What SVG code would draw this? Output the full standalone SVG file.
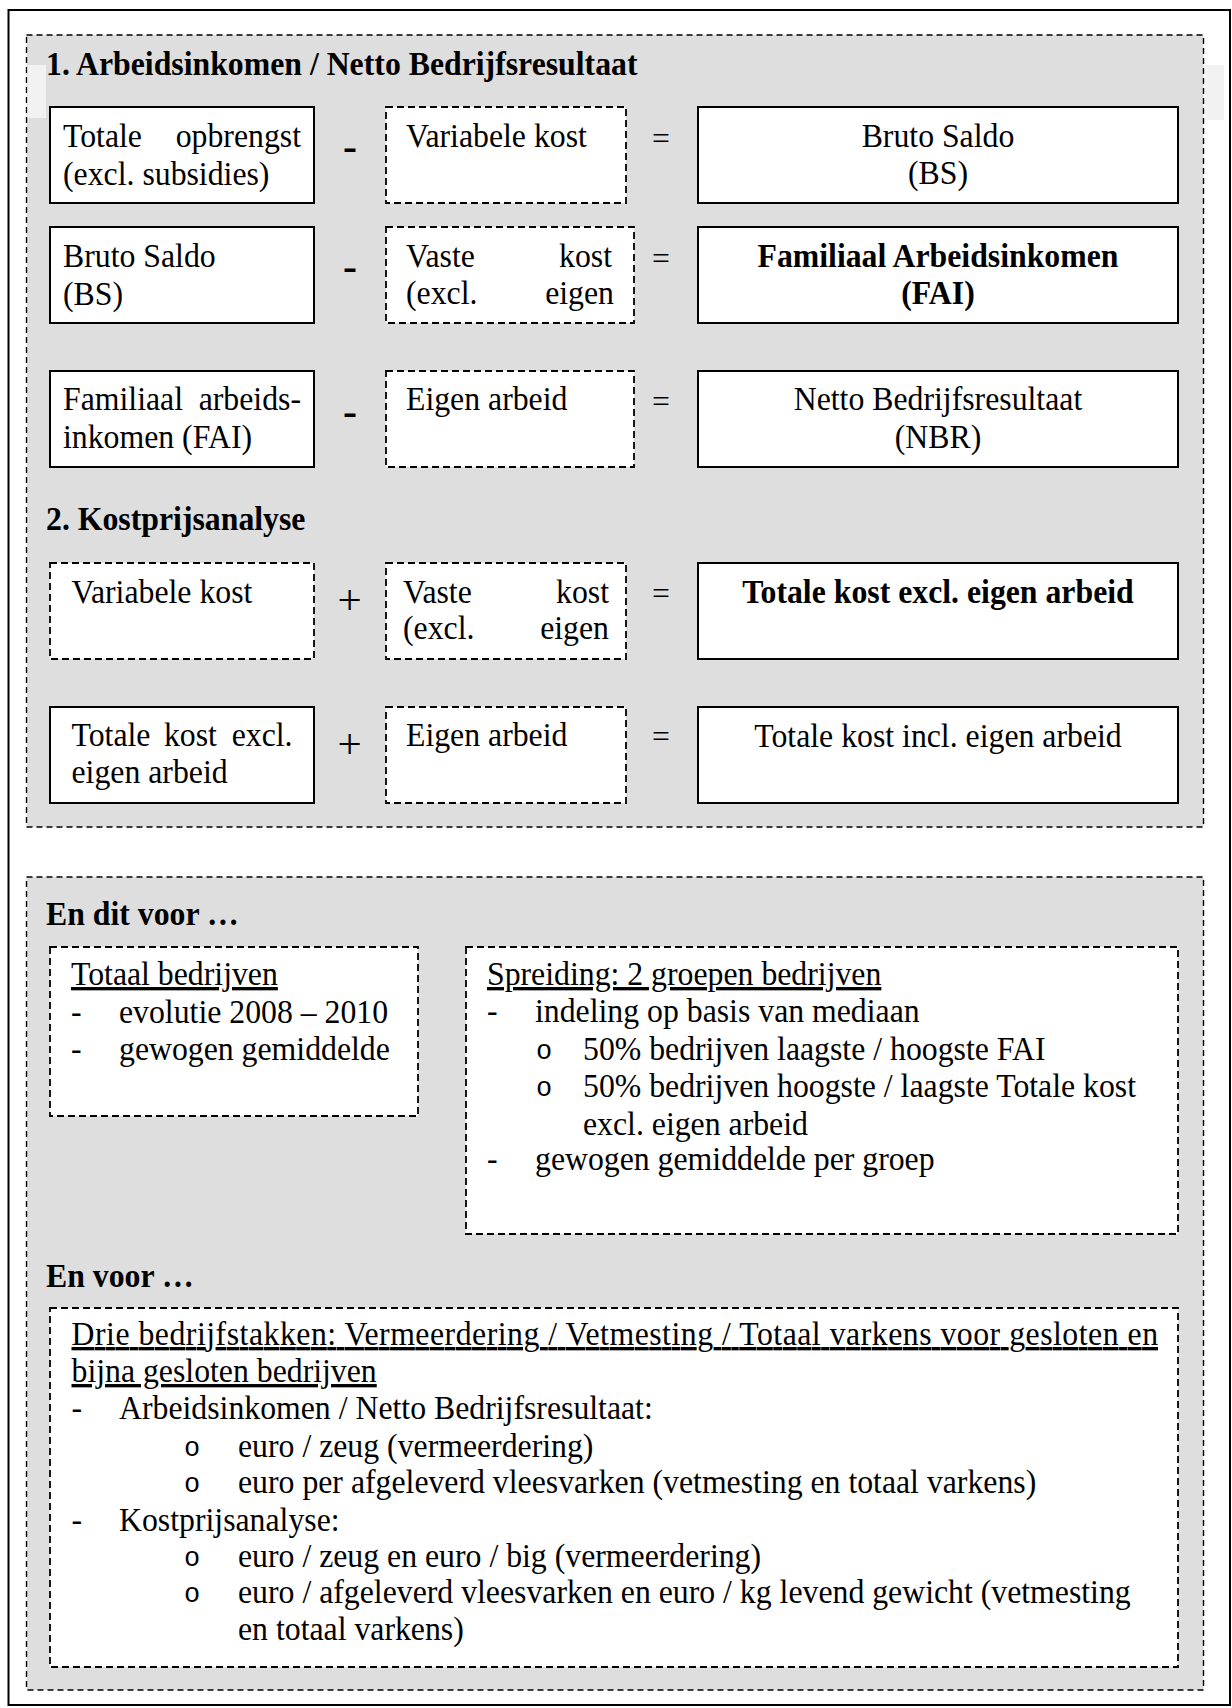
<svg xmlns="http://www.w3.org/2000/svg" width="1232" height="1708" viewBox="0 0 1232 1708">
<style>
text{font-family:"Liberation Serif","Times New Roman",serif;font-size:33.1px;fill:#000}
.b{font-weight:bold}
.u{text-decoration:underline;text-decoration-skip-ink:none}
.m{text-anchor:middle}
.e{text-anchor:end}
.bul{font-family:"Liberation Mono","Courier New",monospace;font-size:28px}
.op{font-size:43px}
.mi{font-size:42px;font-weight:bold}
.eq{font-size:31.8px}
.sec{fill:#dedede;stroke:#000;stroke-width:1.4;stroke-dasharray:6 4}
.sol{fill:#fff;stroke:#000;stroke-width:2}
.dsh{fill:#fff;stroke:#000;stroke-width:1.8;stroke-dasharray:7 4}
.lite{fill:#f2f2f2}
</style>
<rect x="0" y="0" width="1232" height="1708" fill="#fff"/>
<rect x="8.5" y="10" width="1221.5" height="1695" fill="none" stroke="#000" stroke-width="2"/>

<g id="section1">
<rect class="sec" x="26.5" y="35" width="1177" height="792"/>
<rect class="lite" x="27.5" y="65" width="18.5" height="53"/>
<rect class="lite" x="1205" y="65" width="19" height="55"/>
<g transform="scale(0.96 1)"><text class="b" x="47.92" y="75">1. Arbeidsinkomen / Netto Bedrijfsresultaat</text></g>
</g>

<g id="totale-opbrengst">
<rect class="sol" x="50" y="107" width="264" height="96"/>
<g transform="scale(0.96 1)">
<text x="65.63" y="147">Totale</text><text class="e" x="313.54" y="147">opbrengst</text>
<text x="65.63" y="185">(excl. subsidies)</text>
</g>
</g>
<g id="variabele-kost-1">
<rect class="dsh" x="386" y="107" width="240" height="96"/>
<g transform="scale(0.96 1)"><text x="422.92" y="147">Variabele kost</text></g>
</g>
<g id="bruto-saldo-result">
<rect class="sol" x="698" y="107" width="480" height="96"/>
<g transform="scale(0.96 1)">
<text class="m" x="977.08" y="147">Bruto Saldo</text>
<text class="m" x="977.08" y="184">(BS)</text>
</g>
</g>

<g id="bruto-saldo">
<rect class="sol" x="50" y="227" width="264" height="96"/>
<g transform="scale(0.96 1)">
<text x="65.63" y="267">Bruto Saldo</text>
<text x="65.63" y="305">(BS)</text>
</g>
</g>
<g id="vaste-kost-1">
<rect class="dsh" x="386" y="227" width="248" height="96"/>
<g transform="scale(0.96 1)">
<text x="422.92" y="267">Vaste</text><text class="e" x="637.5" y="267">kost</text>
<text x="422.92" y="304">(excl.</text><text class="e" x="639.58" y="304">eigen</text>
</g>
</g>
<g id="fai-result">
<rect class="sol" x="698" y="227" width="480" height="96"/>
<g transform="scale(0.96 1)">
<text class="m b" x="977.08" y="267">Familiaal Arbeidsinkomen</text>
<text class="m b" x="977.08" y="304">(FAI)</text>
</g>
</g>

<g id="fai">
<rect class="sol" x="50" y="371" width="264" height="96"/>
<g transform="scale(0.96 1)">
<text x="65.63" y="410">Familiaal</text><text class="e" x="313.54" y="410">arbeids-</text>
<text x="65.63" y="448">inkomen (FAI)</text>
</g>
</g>
<g id="eigen-arbeid-1">
<rect class="dsh" x="386" y="371" width="248" height="96"/>
<g transform="scale(0.96 1)"><text x="422.92" y="410">Eigen arbeid</text></g>
</g>
<g id="nbr-result">
<rect class="sol" x="698" y="371" width="480" height="96"/>
<g transform="scale(0.96 1)">
<text class="m" x="977.08" y="410">Netto Bedrijfsresultaat</text>
<text class="m" x="977.08" y="448">(NBR)</text>
</g>
</g>

<g id="title2">
<g transform="scale(0.96 1)"><text class="b" x="47.92" y="530">2. Kostprijsanalyse</text></g>
</g>
<g id="variabele-kost-2">
<rect class="dsh" x="50" y="563" width="264" height="96"/>
<g transform="scale(0.96 1)"><text x="74.48" y="603">Variabele kost</text></g>
</g>
<g id="vaste-kost-2">
<rect class="dsh" x="386" y="563" width="240" height="96"/>
<g transform="scale(0.96 1)">
<text x="419.79" y="603">Vaste</text><text class="e" x="634.38" y="603">kost</text>
<text x="419.79" y="639">(excl.</text><text class="e" x="634.38" y="639">eigen</text>
</g>
</g>
<g id="totale-kost-excl-result">
<rect class="sol" x="698" y="563" width="480" height="96"/>
<g transform="scale(0.96 1)"><text class="m b" x="977.08" y="603">Totale kost excl. eigen arbeid</text></g>
</g>

<g id="totale-kost-excl">
<rect class="sol" x="50" y="707" width="264" height="96"/>
<g transform="scale(0.96 1)">
<text x="74.48" y="746">Totale</text><text x="170.83" y="746">kost</text><text class="e" x="304.69" y="746">excl.</text>
<text x="74.48" y="783">eigen arbeid</text>
</g>
</g>
<g id="eigen-arbeid-2">
<rect class="dsh" x="386" y="707" width="240" height="96"/>
<g transform="scale(0.96 1)"><text x="422.92" y="746">Eigen arbeid</text></g>
</g>
<g id="totale-kost-incl-result">
<rect class="sol" x="698" y="707" width="480" height="96"/>
<g transform="scale(0.96 1)"><text class="m" x="977.08" y="747">Totale kost incl. eigen arbeid</text></g>
</g>

<g id="operators">
<text class="m mi" x="350" y="160">-</text>
<text class="m mi" x="350" y="280">-</text>
<text class="m mi" x="350" y="425">-</text>
<text class="m op" x="349.7" y="614">+</text>
<text class="m op" x="349.7" y="758">+</text>
<text class="m eq" x="661" y="149">=</text>
<text class="m eq" x="661" y="269">=</text>
<text class="m eq" x="661" y="412">=</text>
<text class="m eq" x="661" y="604">=</text>
<text class="m eq" x="661" y="747">=</text>
</g>

<g id="section2">
<rect class="sec" x="26.5" y="877" width="1177" height="813"/>
<g transform="scale(0.96 1)">
<text class="b" x="47.92" y="925">En dit voor …</text>
<text class="b" x="47.92" y="1287">En voor …</text>
</g>
</g>

<g id="totaal-bedrijven">
<rect class="dsh" x="50" y="947" width="368" height="169"/>
<g transform="scale(0.96 1)">
<text class="u" x="73.96" y="985">Totaal bedrijven</text>
<text x="73.96" y="1023">-</text><text x="123.96" y="1023">evolutie 2008 – 2010</text>
<text x="73.96" y="1060">-</text><text x="123.96" y="1060">gewogen gemiddelde</text>
</g>
</g>

<g id="spreiding">
<rect class="dsh" x="466" y="947" width="712" height="287"/>
<g transform="scale(0.96 1)">
<text class="u" x="507.29" y="985">Spreiding: 2 groepen bedrijven</text>
<text x="507.29" y="1022">-</text><text x="557.29" y="1022">indeling op basis van mediaan</text>
<text class="bul" x="558.33" y="1059">o</text><text x="607.29" y="1060">50% bedrijven laagste / hoogste FAI</text>
<text class="bul" x="558.33" y="1096">o</text><text x="607.29" y="1097">50% bedrijven hoogste / laagste Totale kost</text>
<text x="607.29" y="1135">excl. eigen arbeid</text>
<text x="507.29" y="1170">-</text><text x="557.29" y="1170">gewogen gemiddelde per groep</text>
</g>
</g>

<g id="bedrijfstakken">
<rect class="dsh" x="50" y="1308" width="1128" height="359"/>
<g transform="scale(0.96 1)">
<text class="u" x="74.48" y="1345" textLength="1131.8" lengthAdjust="spacing">Drie bedrijfstakken: Vermeerdering / Vetmesting / Totaal varkens voor gesloten en</text>
<text class="u" x="74.48" y="1382">bijna gesloten bedrijven</text>
<text x="74.48" y="1419">-</text><text x="123.96" y="1419">Arbeidsinkomen / Netto Bedrijfsresultaat:</text>
<text class="bul" x="191.67" y="1456">o</text><text x="247.92" y="1457">euro / zeug (vermeerdering)</text>
<text class="bul" x="191.67" y="1492">o</text><text x="247.92" y="1493">euro per afgeleverd vleesvarken (vetmesting en totaal varkens)</text>
<text x="74.48" y="1531">-</text><text x="123.96" y="1531">Kostprijsanalyse:</text>
<text class="bul" x="191.67" y="1566">o</text><text x="247.92" y="1567">euro / zeug en euro / big (vermeerdering)</text>
<text class="bul" x="191.67" y="1602">o</text><text x="247.92" y="1603">euro / afgeleverd vleesvarken en euro / kg levend gewicht (vetmesting</text>
<text x="247.92" y="1640">en totaal varkens)</text>
</g>
</g>
</svg>
